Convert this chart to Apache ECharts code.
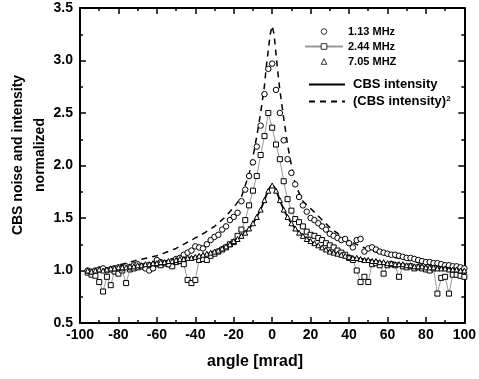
<!DOCTYPE html>
<html><head><meta charset="utf-8">
<script src="https://cdn.jsdelivr.net/npm/echarts@6/dist/echarts.min.js"></script>
<style>html,body{margin:0;padding:0;background:#fff}#c{width:479px;height:379px}</style>
</head><body><div id="c"></div>
<script>
// marker angles [mrad]
const markerX = [-96,-94,-92,-90,-88,-86,-84,-82,-80,-78,-76,-74,-72,-70,-68,-66,-64,-62,-60,-58,
 -56,-54,-52,-50,-48,-46,-44,-42,-40,-38,-36,-34,-32,-30,-28,-26,-24,-22,-20,-18,
 -16,-14,-12,-10,-8,-6,-4,-2,0,2,4,6,8,10,12,14,16,18,20,22,
 24,26,28,30,32,34,36,38,40,42,44,46,48,50,52,54,56,58,60,62,
 64,66,68,70,72,74,76,78,80,82,84,86,88,90,92,94,96,98,100];
// 1.13 MHz
const c113 = [1.00,0.99,1.00,1.01,1.02,1.00,1.01,1.02,1.03,1.02,
 1.04,1.03,1.05,1.06,1.04,1.02,1.00,1.02,1.10,1.08,
 1.07,1.06,1.09,1.11,1.12,1.15,1.17,1.19,1.23,1.22,
 1.21,1.25,1.29,1.32,1.34,1.39,1.42,1.48,1.51,1.55,
 1.66,1.77,1.90,2.03,2.18,2.38,2.68,2.92,2.97,2.72,
 2.50,2.24,2.06,1.93,1.82,1.70,1.62,1.56,1.50,1.48,
 1.45,1.42,1.39,1.35,1.33,1.31,1.29,1.30,1.26,1.22,
 1.29,1.30,1.18,1.21,1.22,1.20,1.18,1.17,1.16,1.15,
 1.15,1.14,1.13,1.12,1.12,1.11,1.10,1.09,1.08,1.08,
 1.07,1.07,1.06,1.05,1.05,1.04,1.04,1.03,1.02];
// 2.44 MHz
const s244 = [0.98,0.96,0.95,0.89,0.80,0.94,0.86,0.99,0.97,1.00,
 0.88,1.01,1.02,1.03,1.04,1.03,1.05,1.04,1.06,1.05,
 1.07,1.06,1.04,1.08,1.09,1.06,0.91,0.88,0.91,1.10,
 1.11,1.10,1.14,1.16,1.18,1.20,1.22,1.25,1.27,1.33,
 1.39,1.48,1.62,1.76,1.90,2.10,2.28,2.50,2.36,2.20,
 2.06,1.85,1.68,1.57,1.49,1.46,1.42,1.37,1.34,1.33,
 1.31,1.29,1.26,1.24,1.22,1.19,1.17,1.15,1.12,1.10,
 1.00,0.89,0.94,0.89,1.06,1.07,1.05,0.97,1.05,1.06,
 1.05,0.94,1.04,1.03,1.04,1.02,1.03,1.02,1.01,1.00,
 1.02,0.78,0.93,0.94,0.78,0.96,0.96,0.95,0.94];
// 7.05 MHz
const t705 = [1.00,0.99,1.00,1.01,1.00,1.01,1.02,1.02,1.03,1.03,
 1.03,1.04,1.04,1.05,1.05,1.06,1.06,1.07,1.07,1.08,
 1.08,1.09,1.09,1.10,1.11,1.11,1.12,1.12,1.13,1.14,
 1.15,1.16,1.17,1.18,1.19,1.21,1.23,1.25,1.28,1.30,
 1.33,1.36,1.40,1.45,1.51,1.58,1.67,1.76,1.81,1.76,
 1.67,1.58,1.51,1.45,1.40,1.36,1.33,1.30,1.28,1.26,
 1.24,1.22,1.20,1.18,1.17,1.16,1.15,1.14,1.13,1.12,
 1.12,1.11,1.10,1.10,1.09,1.09,1.08,1.08,1.07,1.07,
 1.06,1.06,1.06,1.05,1.05,1.04,1.04,1.04,1.03,1.03,
 1.03,1.02,1.02,1.02,1.01,1.01,1.01,1.00,1.00];
// curves
const lineX = [-96,-90,-80,-70,-60,-50,-44,-40,-35,-30,-25,-20,-16,-12,-10,-8,-6,-4,-3,-2,-1,0,
 1,2,3,4,6,8,10,12,16,20,25,30,35,40,50,60,70,80,90,100];
const cbs = [1.00,1.01,1.03,1.05,1.07,1.10,1.12,1.13,1.15,1.18,1.22,1.28,1.33,1.40,1.45,1.51,1.58,1.67,1.72,1.76,1.80,1.81,
 1.80,1.76,1.72,1.67,1.58,1.51,1.45,1.40,1.33,1.28,1.22,1.18,1.15,1.13,1.10,1.07,1.05,1.03,1.02,1.00];
const cbs2 = [1.00,1.01,1.05,1.10,1.14,1.21,1.27,1.31,1.36,1.42,1.50,1.60,1.70,1.92,2.08,2.28,2.50,2.76,2.95,3.10,3.25,3.33,
 3.25,3.06,2.88,2.72,2.45,2.20,2.00,1.82,1.66,1.59,1.50,1.41,1.34,1.28,1.20,1.14,1.10,1.06,1.03,1.01];
const xTicks = [-100,-80,-60,-40,-20,0,20,40,60,80,100];
const yTicks = [0.5,1.0,1.5,2.0,2.5,3.0,3.5];

const F = "'Liberation Sans', Arial, Helvetica, sans-serif";
function pairs(xs, ys){ return xs.map((x,i)=>[x, ys[i]]); }
const chart = echarts.init(document.getElementById('c'), null, {renderer:'canvas'});

function xAx(pos, showLabel){
  return {type:'value', position:pos, min:xTicks[0], max:xTicks[xTicks.length-1], interval:20,
    axisLine:{show:true, onZero:false, lineStyle:{color:'#000', width:2}},
    axisTick:{show:true, inside:true, length:6, lineStyle:{color:'#000', width:1.5}},
    minorTick:{show:true, splitNumber:2, length:3, lineStyle:{color:'#000', width:1.5}},
    splitLine:{show:false},
    axisLabel:{show:showLabel, color:'#000', fontFamily:F, fontWeight:'bold', fontSize:14, margin:5}};
}
function yAx(pos, showLabel){
  return {type:'value', position:pos, min:yTicks[0], max:yTicks[yTicks.length-1], interval:0.5,
    axisLine:{show:true, onZero:false, lineStyle:{color:'#000', width:2}},
    axisTick:{show:true, inside:true, length:6, lineStyle:{color:'#000', width:1.5}},
    minorTick:{show:true, splitNumber:2, length:3, lineStyle:{color:'#000', width:1.5}},
    splitLine:{show:false},
    axisLabel:{show:showLabel, color:'#000', fontFamily:F, fontWeight:'bold', fontSize:14, margin:7,
      formatter:v=>v.toFixed(1)}};
}
const mk = {color:'#fff', borderColor:'#000', borderWidth:1, opacity:1};
const hiddenLine = {color:'#000', width:0, opacity:0};
const option = {
  animation:false,
  backgroundColor:'#fff',
  grid:{left:80, right:12, top:8, bottom:56},
  xAxis:[xAx('bottom', true), xAx('top', false)],
  yAxis:[yAx('left', true), yAx('right', false)],
  legend:[
    {orient:'vertical', left:299, top:21, itemWidth:38, itemHeight:7, itemGap:4,
     data:['1.13 MHz','2.44 MHz','7.05 MHZ'],
     itemStyle:{borderWidth:0.8},
     textStyle:{color:'#000', fontFamily:F, fontWeight:'bold', fontSize:11}},
    {orient:'vertical', left:303, top:73, itemWidth:36, itemHeight:6, itemGap:4,
     data:[{name:'CBS intensity', itemStyle:{opacity:0}}, {name:'(CBS intensity)²', itemStyle:{opacity:0}}],
     formatter:n=>n.replace('²','{s|2}'),
     textStyle:{color:'#000', fontFamily:F, fontWeight:'bold', fontSize:13, padding:[0,0,0,3],
       rich:{s:{fontSize:8, fontWeight:'bold', fontFamily:F, verticalAlign:'top', color:'#000'}}}}
  ],
  graphic:[
    {type:'text', x:29, y:155, rotation:Math.PI/2,
     style:{text:'CBS noise and intensity\nnormalized', font:"bold 14px 'Liberation Sans', Arial, sans-serif",
       fill:'#000', align:'center', verticalAlign:'middle', textAlign:'center', textVerticalAlign:'middle', lineHeight:22}},
    {type:'text', x:255, y:362,
     style:{text:'angle [mrad]', font:"bold 16px 'Liberation Sans', Arial, sans-serif",
       fill:'#000', align:'center', verticalAlign:'middle', textAlign:'center', textVerticalAlign:'middle'}}
  ],
  series:[
    {name:'(CBS intensity)²', type:'line', data:pairs(lineX, cbs2), symbol:'none', z:2,
     lineStyle:{color:'#000', width:1.5, type:[6,5]}, itemStyle:{color:'#000'}},
    {name:'CBS intensity', type:'line', data:pairs(lineX, cbs), symbol:'none', z:2,
     lineStyle:{color:'#000', width:1.8}, itemStyle:{color:'#000'}},
    {name:'2.44 MHz', type:'line', data:pairs(markerX, s244), symbol:'rect', symbolSize:5, showAllSymbol:true, z:3,
     lineStyle:{color:'#999', width:1}, itemStyle:mk},
    {name:'1.13 MHz', type:'line', data:pairs(markerX, c113), symbol:'circle', symbolSize:5.5, showAllSymbol:true, z:4,
     lineStyle:hiddenLine, itemStyle:mk},
    {name:'7.05 MHZ', type:'line', data:pairs(markerX, t705), symbol:'triangle', symbolSize:5, showAllSymbol:true, z:4,
     lineStyle:hiddenLine, itemStyle:mk}
  ]
};
chart.setOption(option);
</script></body></html>
